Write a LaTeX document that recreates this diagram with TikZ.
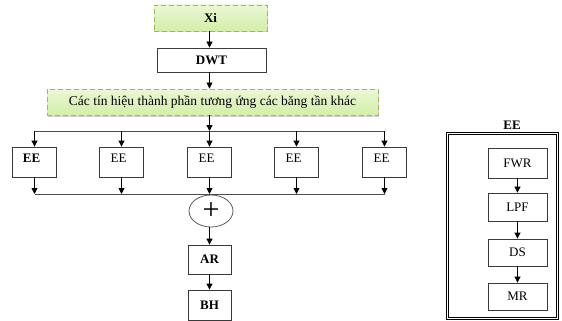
\documentclass[tikz,border=0pt]{standalone}
\usepackage{fontspec}
\setmainfont{Liberation Serif}
\usetikzlibrary{arrows.meta,shapes.geometric,shadows}
\definecolor{gtop}{HTML}{EAF7D6}
\definecolor{gbot}{HTML}{D3EEA8}
\definecolor{gline}{HTML}{9BBB59}
\definecolor{bline}{HTML}{3A3A3A}
\begin{document}
\begin{tikzpicture}[x=1pt,y=-1pt,
  font=\fontsize{13}{15}\selectfont,
  bf/.style={font=\fontsize{13}{15}\selectfont\bfseries},
  box/.style={draw=bline, line width=0.8pt, fill=white, inner sep=0pt,
    minimum width=#1},
  greenbox/.style={draw=gline, dashed, dash pattern=on 5pt off 3pt, line width=0.9pt,
    top color=gtop, bottom color=gbot, inner sep=0pt,
    drop shadow={shadow xshift=1pt, shadow yshift=-1.5pt, opacity=0.35, fill=gray}},
  arr/.style={-{Triangle[length=6pt,width=6pt]}, line width=0.8pt, draw=black},
  ln/.style={line width=0.8pt, draw=black!70},
]
\useasboundingbox (0,0) rectangle (562,321);

% main column
\node[greenbox, minimum width=113pt, minimum height=26pt, bf] (xi) at (210.5,18) {Xi};
\node[box=109pt, minimum height=24pt, bf] (dwt) at (211.5,60) {DWT};
\node[greenbox, minimum width=331pt, minimum height=26pt, font=\fontsize{13.5}{15}\selectfont] (comp) at (212.5,102) {Các tín hiệu thành phần tương ứng các băng tần khác};

% EE boxes
\foreach \i/\x in {1/34.5,2/121.5,3/209.5,4/296.5,5/384.5}{
  \coordinate (t\i) at (\x,131);
  \coordinate (b\i) at (\x,194);
}
\node[box=44pt, minimum height=30pt, label={[shift={(-3,-4)}, bf]center:EE}] (ee1) at (34.5,162) {};
\node[box=44pt, minimum height=30pt, label={[shift={(-3,-4)}]center:EE}] (ee2) at (121.5,162) {};
\node[box=44pt, minimum height=30pt, label={[shift={(-3,-4)}]center:EE}] (ee3) at (209.5,162) {};
\node[box=44pt, minimum height=30pt, label={[shift={(-3,-4)}]center:EE}] (ee4) at (296.5,162) {};
\node[box=44pt, minimum height=30pt, label={[shift={(-3,-4)}]center:EE}] (ee5) at (384.5,162) {};

\node[draw=black!65, line width=0.8pt, ellipse, minimum width=44pt, minimum height=32pt, inner sep=0pt, font=\fontsize{30}{30}\selectfont] (sum) at (211,211) {+};
\node[box=43pt, minimum height=29pt, bf] (ar) at (209.5,259.5) {AR};
\node[box=43pt, minimum height=30pt, bf] (bh) at (209.5,305) {BH};

% connectors
\draw[arr] (xi.south -| ee3.north) -- (dwt.north -| ee3.north);
\draw[arr] (dwt.south -| ee3.north) -- (comp.north -| ee3.north);
\draw[arr] (comp.south -| ee3.north) -- (t3);
\draw[ln] (t1) -- (t5);
\foreach \i in {1,...,5}{
  \draw[arr] (t\i) -- (ee\i.north);
  \draw[arr] (ee\i.south) -- (b\i);
}
\draw[ln] (b1) -- (b5);
\draw[arr] (sum.south -| ar.north) -- (ar.north);
\draw[arr] (ar.south) -- (bh.north);

% EE detail panel
\node[draw=black, line width=0.8pt, double, double distance=1.6pt, minimum width=110pt, minimum height=185pt, inner sep=0pt] (panel) at (502.5,226) {};
\node[bf] (ptitle) at (512,125) {EE};
\node[box=59pt, minimum height=30pt] (fwr) at (517.5,163) {FWR};
\node[box=59pt, minimum height=28pt] (lpf) at (517.5,207) {LPF};
\node[box=59pt, minimum height=27pt] (ds) at (517.5,252.5) {DS};
\node[box=59pt, minimum height=27pt] (mr) at (517.5,296.5) {MR};
\draw[arr] (fwr.south) -- (lpf.north);
\draw[arr] (lpf.south) -- (ds.north);
\draw[arr] (ds.south) -- (mr.north);
\end{tikzpicture}
\end{document}
